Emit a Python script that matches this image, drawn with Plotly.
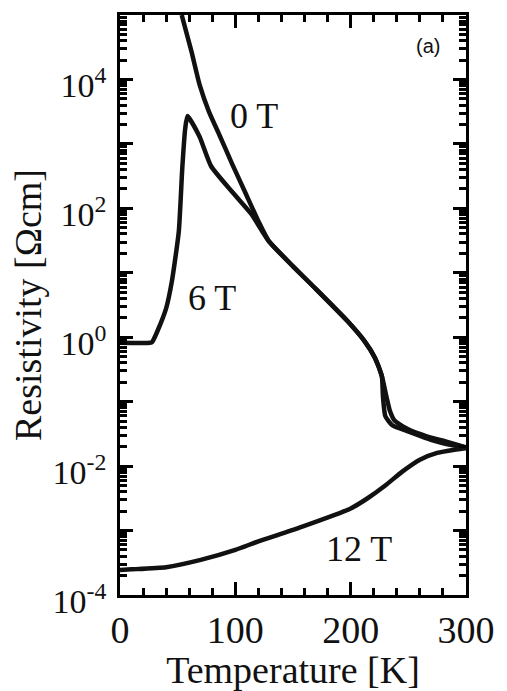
import math
import plotly.graph_objects as go

# ---- data ----
T_0T = [53.5, 62, 69, 77, 86, 97, 109, 120, 129, 150, 169, 197, 212, 221, 227,
        231, 234, 238, 249, 266, 283, 300]
R_0T = [1.0e5, 2.7e4, 8.3e3, 3.2e3, 1.4e3, 500, 170, 63, 31, 12.6, 5.8, 1.8,
        0.87, 0.48, 0.25, 0.12, 0.072, 0.051, 0.038, 0.029, 0.024, 0.0195]

T_6T = [0, 26, 28, 32.6, 40, 45, 51, 54, 56.5, 58.5, 69, 79, 97, 114, 122, 129,
        150, 169, 197, 212, 221, 227, 228, 230, 236, 249, 266, 283, 300]
R_6T = [0.82, 0.82, 0.85, 1.26, 2.8, 7.4, 44, 420, 1700, 2700, 1290, 450, 182,
        81, 48, 31, 12.6, 5.8, 1.8, 0.87, 0.48, 0.25, 0.12, 0.060, 0.043,
        0.035, 0.027, 0.022, 0.0195]

T_12T = [0, 10, 40, 70, 100, 120, 155, 200, 215, 230, 245, 260, 275, 290, 300]
R_12T = [2.45e-4, 2.5e-4, 2.7e-4, 3.5e-4, 5.0e-4, 6.8e-4, 1.1e-3, 2.2e-3,
         3.2e-3, 5.0e-3, 8.3e-3, 1.26e-2, 1.6e-2, 1.8e-2, 1.9e-2]

curve_labels = ["0 T", "6 T", "12 T"]
label_T = [116, 80, 207]
label_R = [2750, 4.1, 5.1e-4]

x_ticks = [0, 100, 200, 300]
x_minor = [20, 40, 60, 80, 120, 140, 160, 180, 220, 240, 260, 280]
y_exponents = list(range(-4, 6))
y_ticktext = ["10<sup>%d</sup>" % e if e % 2 == 0 and e < 5 else "" for e in y_exponents]
y_minor = [m * 10.0 ** e for e in range(-4, 5) for m in range(2, 10)]

SERIF = "Liberation Serif, Times New Roman, serif"
LINE = dict(color="#111111", width=4.5)

fig = go.Figure()
for xs, ys in [(T_0T, R_0T), (T_6T, R_6T), (T_12T, R_12T)]:
    fig.add_trace(go.Scatter(x=xs, y=ys, mode="lines", line=LINE,
                             line_shape="spline", line_smoothing=0.5, showlegend=False))

for txt, tx, ty in zip(curve_labels, label_T, label_R):
    fig.add_annotation(x=tx, y=math.log10(ty), text=txt,
                       showarrow=False, font=dict(family=SERIF, size=36, color="#111111"))

fig.add_annotation(x=267, y=4.52, text="(a)", showarrow=False,
                   font=dict(family="Liberation Sans, Arial, sans-serif", size=20, color="#111111"))

fig.update_xaxes(
    range=[0, 300], tickmode="array", tickvals=x_ticks, ticktext=[str(v) for v in x_ticks],
    ticks="inside", ticklen=13, tickwidth=3, tickcolor="black", layer="above traces",
    showline=True, linewidth=2.5, linecolor="black", mirror="allticks",
    showgrid=False, zeroline=False,
    tickfont=dict(family=SERIF, size=38, color="#111111"),
    title=dict(text="Temperature [K]", font=dict(family=SERIF, size=38, color="#111111"), standoff=0),
    minor=dict(tickmode="array", tickvals=x_minor, ticks="inside", ticklen=7,
               tickwidth=2.5, tickcolor="black", showgrid=False),
)
fig.update_yaxes(
    type="log", range=[-4, 5], tickmode="array",
    tickvals=[10.0 ** e for e in y_exponents], ticktext=y_ticktext,
    ticks="inside", ticklen=13, tickwidth=3, tickcolor="black", layer="above traces",
    showline=True, linewidth=2.5, linecolor="black", mirror="allticks",
    showgrid=False, zeroline=False, ticklabelstandoff=4, ticklabelshift=6,
    tickfont=dict(family=SERIF, size=34, color="#111111"),
    title=dict(text="Resistivity [Ωcm]", font=dict(family=SERIF, size=38, color="#111111"), standoff=0),
    minor=dict(tickmode="array", tickvals=y_minor, ticks="inside", ticklen=7,
               tickwidth=2.5, tickcolor="black", showgrid=False),
)

fig.update_layout(
    width=507, height=691,
    margin=dict(l=120, r=37, t=13, b=96),
    paper_bgcolor="white", plot_bgcolor="white",
)

fig.write_html("out.html", config={"displayModeBar": False},
               post_script="document.body.style.margin='0';document.body.style.overflow='hidden';")
